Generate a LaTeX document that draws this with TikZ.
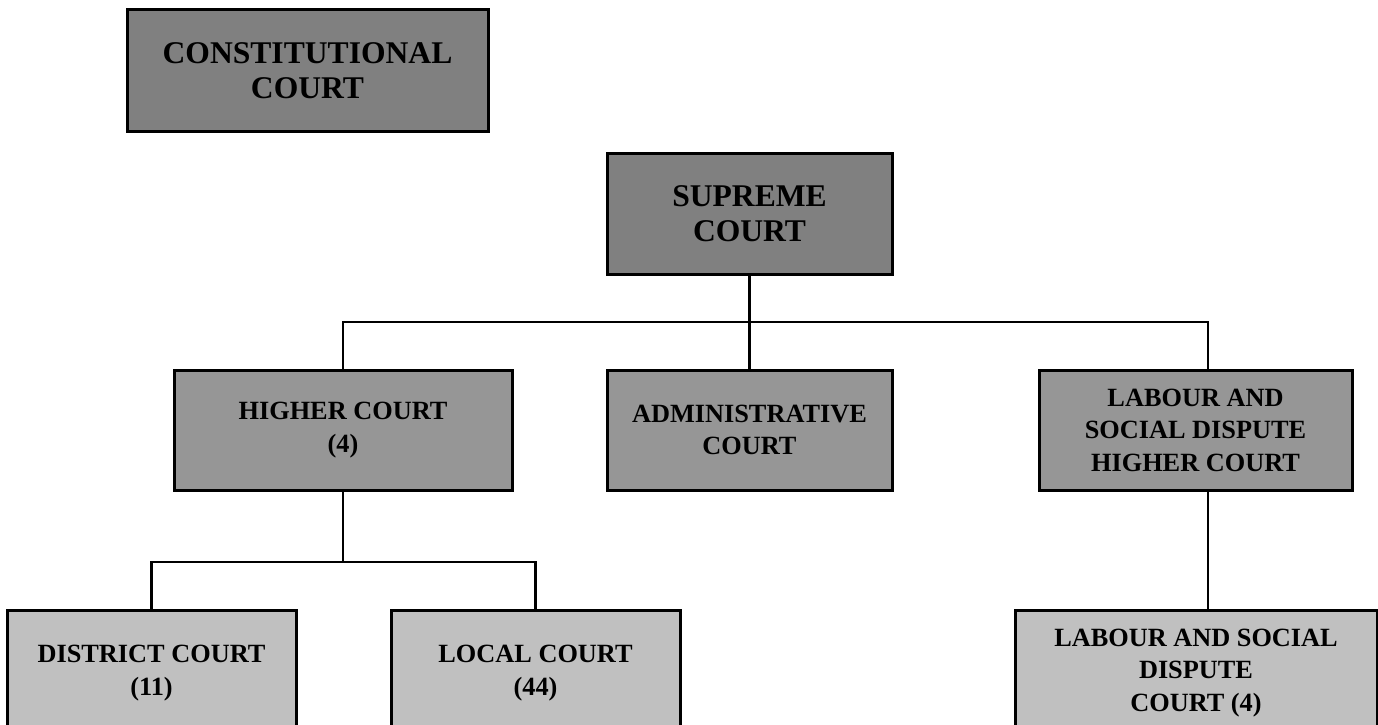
\documentclass[tikz,border=0pt]{standalone}
\usepackage{fontspec}
\setmainfont{Liberation Serif}
\definecolor{topgray}{HTML}{808080}
\definecolor{midgray}{HTML}{969696}
\definecolor{lowgray}{HTML}{C0C0C0}
\begin{document}
\begin{tikzpicture}[x=1pt,y=-1pt,
  court/.style={draw=black, line width=3pt, inner sep=0pt, align=center, font=\bfseries},
  bigtext/.style={font=\bfseries\fontsize{31.6}{35}\selectfont},
  smalltext/.style={font=\bfseries\fontsize{26.3}{32.5}\selectfont},
  link/.style={draw=black, line width=2.2pt}]
\useasboundingbox (0,0) rectangle (1378,725);
\fill[white] (0,0) rectangle (1378,725);
% top row
\node[court, bigtext, fill=topgray, minimum width=361pt, minimum height=121pt] (con) at (307.5,70.5) {CONSTITUTIONAL\\COURT};
\node[court, bigtext, fill=topgray, minimum width=285pt, minimum height=121pt] (sup) at (749.5,213.5) {SUPREME\\COURT};
% middle row
\node[court, smalltext, fill=midgray, minimum width=338pt, minimum height=120pt] (hc) at (343,430) {HIGHER COURT\\(4)};
\node[court, smalltext, fill=midgray, minimum width=285pt, minimum height=120pt] (adm) at (749.5,430) {ADMINISTRATIVE\\COURT};
\node[court, smalltext, fill=midgray, minimum width=313pt, minimum height=120pt] (lhc) at (1195.5,430) {LABOUR AND\\SOCIAL DISPUTE\\HIGHER COURT};
% bottom row
\node[court, smalltext, fill=lowgray, minimum width=289pt, minimum height=126pt] (dc) at (151.5,673) {DISTRICT COURT\\(11)};
\node[court, smalltext, fill=lowgray, minimum width=289pt, minimum height=126pt] (lc) at (535.5,673) {LOCAL COURT\\(44)};
\node[court, smalltext, fill=lowgray, minimum width=362pt, minimum height=126pt] (llc) at (1196,673) {LABOUR AND SOCIAL\\DISPUTE\\COURT (4)};
% junctions
\coordinate (jR) at (1208,322);
\coordinate (j2) at (344,562);
% connectors
\draw[link] (hc.north) |- (jR) -- (jR |- lhc.north);
\draw[link] (sup.south) -- (sup.south |- jR);
\draw[link] (adm.north) -- (adm.north |- jR);
\draw[link] (hc.south) -- (hc.south |- j2);
\draw[link] (dc.north) |- (j2) -| (lc.north);
\draw[link] (jR |- lhc.south) -- (jR |- llc.north);
\end{tikzpicture}
\end{document}
